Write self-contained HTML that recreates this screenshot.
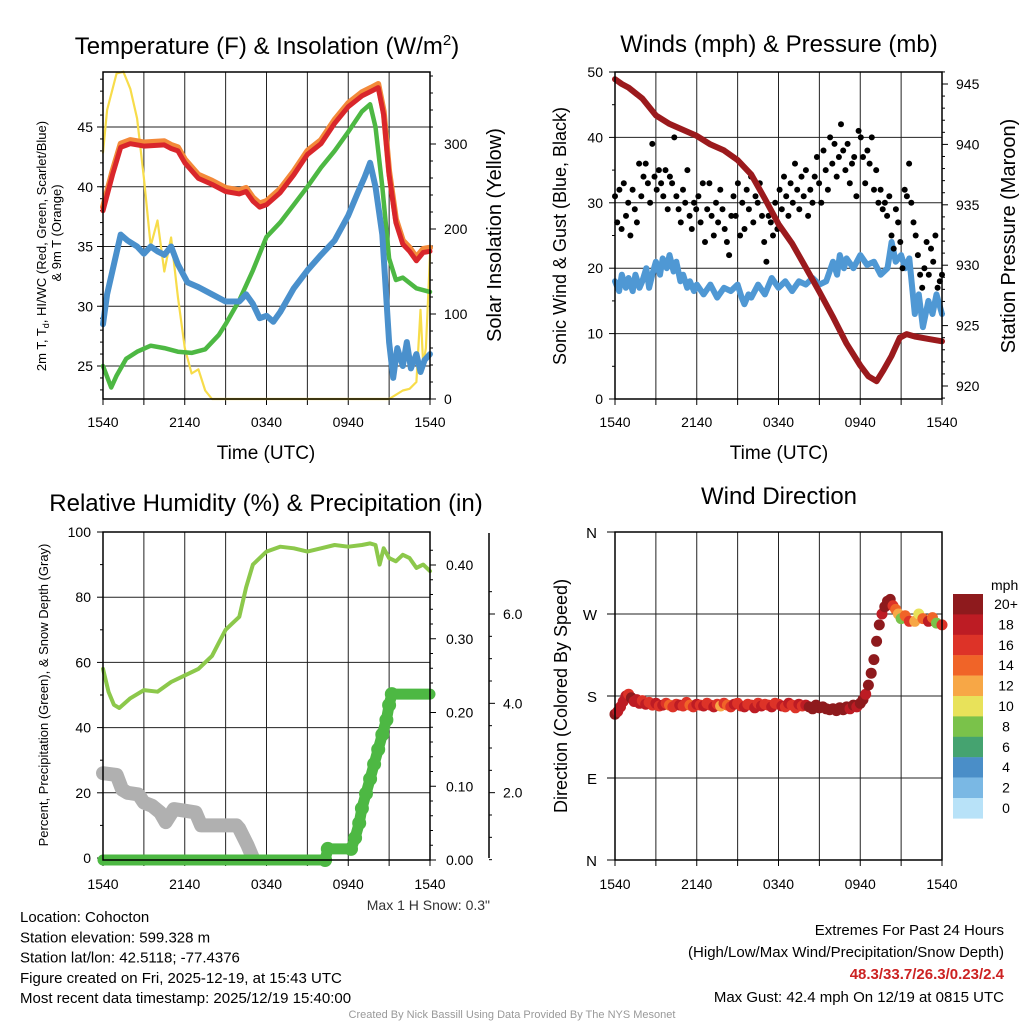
<!DOCTYPE html>
<html><head><meta charset="utf-8">
<style>
html,body{margin:0;padding:0;background:#fff;}
svg{display:block;font-family:"Liberation Sans",sans-serif;}
</style></head>
<body>
<svg id="c" width="1024" height="1024" viewBox="0 0 1024 1024"></svg>
<script>
// ---------- DATA ----------
const timeTicks = ["1540","2140","0340","0940","1540"];
// Panel 1: temperature (hours since start, value)
const redH = [0,0.7,1.3,2,3,4.5,5,5.5,6,7,8,9,10,10.5,11,11.5,12,13,14,15,16,17,18,19,19.7,20.2,20.6,21,21.5,22,22.5,23,23.5,24];
const redV = [38,41,43.3,43.6,43.4,43.5,43.2,43,42,40.7,40.2,39.6,39.4,39.6,38.8,38.3,38.5,39.5,41,42.7,43.6,45.3,46.7,47.6,48,48.3,46,41,37,35.2,34.6,33.8,34.5,34.6];
const orgV = [38.3,41.3,43.6,43.9,43.7,43.8,43.5,43.3,42.3,41,40.5,39.9,39.7,39.9,39.1,38.6,38.8,39.8,41.3,43,43.9,45.6,47,47.9,48.3,48.6,46.3,41.3,37.3,35.5,34.9,34.1,34.8,34.9];
const greenH = [0,0.6,1,1.7,2.5,3.5,4.5,5.5,6.5,7.5,8.5,9,10,11,12,13,14,15,16,17,18,19,19.6,20,20.5,21,21.5,22,23,24];
const greenV = [25,23.2,24.2,25.6,26.2,26.7,26.5,26.2,26.1,26.4,27.6,28.5,30.5,33,35.8,37,38.5,40,41.6,43,44.6,46.3,46.9,45,40,34,32.2,32.4,31.5,31.2];
const blueH = [0,0.3,0.8,1.3,1.8,2.5,3,3.5,4,4.5,5,5.5,6.2,7,8,9,10,10.5,11,11.5,12,12.5,13,14,15,16,17,18,18.7,19.2,19.6,20,20.5,21,21.3,21.6,22,22.3,22.6,23,23.3,23.6,24];
const blueV = [28.5,31,33.5,36,35.5,35,34.4,35,34.6,34.3,35,33.5,32,31.6,31,30.4,30.4,31,30.2,29,29.2,28.7,29.5,31.5,33,34.3,35.5,37.6,39.5,40.8,42,40,36,27,24,26.5,25,27,24.8,26,24.5,25.5,26];
const solarH = [0,0.3,1,1.5,2,2.5,3,3.5,4,4.5,5,5.5,6,6.5,7,7.5,8,8.5,9,20,21,21.5,22,22.5,23,23.3,23.5,23.7,24];
const solarV = [290,340,383,385,365,330,260,180,210,150,190,120,60,30,35,10,0,0,0,0,0,5,10,12,20,105,40,60,170];
// Panel 2: wind / pressure
const presH = [0,0.5,1,2,3,4,5,6,7,8,9,10,11,12,13,14,15,16,17,18,18.6,19.2,19.7,20.3,20.9,21.4,22,23,24];
const presV = [945.4,945,944.7,943.8,942.4,941.7,941.2,940.7,940,939.5,938.7,937.5,935.5,933.4,931.8,929.8,927.8,925.7,923.5,921.7,920.8,920.4,921.3,922.5,924,924.3,924.1,923.9,923.7];
const windH = [0,0.3,0.5,0.8,1,1.3,1.5,1.8,2,2.3,2.5,2.8,3,3.3,3.5,3.8,4,4.3,4.5,4.8,5,5.3,5.5,5.8,6,6.5,7,7.5,8,8.5,9,9.3,9.5,9.8,10,10.5,11,11.5,12,12.5,13,13.5,14,14.5,15,15.5,16,16.3,16.5,16.8,17,17.5,18,18.5,19,19.5,20,20.3,20.6,21,21.3,21.6,22,22.3,22.6,23,23.3,23.6,24];
const windV = [18,16.5,19,17,18.5,16.5,19,17,18,20,17,19.5,21,19,21.5,20,22,19.5,21,18,19,17,18,16.5,17.5,16,17.5,15.5,17,16.5,17.5,15.5,14.5,16,15.5,17.5,16,18.5,17,18,16.5,18,17.5,18.5,17.5,18,21,19,22,20,21.5,20,22,20.5,21,19,20,24,21,22,20,21.5,13,16,11,15,13,16,13];
const gustV = [31,27,32,26,33,28,30,25,32,29,27,36,31,34,36,33,30,39,34,32,35,33,31,35,29,34,33,40,31,29,27,32,30,35,28,26,30,29,31,27,33,24,29,33,28,25,30,27,32,29,26,24,22,28,31,28,33,25,30,26,32,29,34,27,31,30,33,28,24,21,28,27,25,30,26,32,29,34,31,28,33,30,36,32,29,34,31,35,28,32,30,34,37,33,30,38,35,32,40,36,39,34,37,42,38,35,39,33,36,37,31,41,40,37,33,38,36,40,32,35,30,32,29,30,28,31,25,23,29,27,24,20,32,31,36,30,27,25,22,19,17,20,24,19,23,21,25,17,18,19];
// Panel 3: RH, precip, snow depth
const rhH = [0,0.4,0.8,1.2,2,3,4,5,6,7,8,8.5,9,9.5,10,10.5,11,11.5,12,13,14,15,16,17,18,19,19.6,20,20.3,20.6,21,21.5,22,22.5,23,23.5,24];
const rhV = [58,51,47,46,49,51.5,51,54,56,58,62,66,70,72,74,83,90,92,94,95.5,95,94,95,96,95.5,96,96.5,96,90,95,92,91,93,92,89,90,88];
const precipH = [0,16.3,16.5,18.2,18.5,18.8,19,19.3,19.6,19.9,20.2,20.5,20.8,21,21.2,24];
const precipV = [0,0,0.015,0.015,0.03,0.05,0.07,0.09,0.11,0.13,0.15,0.17,0.19,0.21,0.225,0.225];
const snowH = [0,1,1.4,1.8,2.6,3,3.6,4.2,4.6,5.2,6,6.8,7.2,8,9.2,9.8,10,10.6,11];
const snowV = [26,25.5,21,20,19.5,17,16,14,11,15,14.5,14,10,10,10,10,9,4,0];
// Panel 4: wind direction (degrees) and speed (mph)
const dirH = [0,0.2,0.4,0.6,0.8,1,1.2,1.4,1.6,1.8,2,2.25,2.5,2.75,3,3.25,3.5,3.75,4,4.25,4.5,4.75,5,5.25,5.5,5.75,6,6.25,6.5,6.75,7,7.25,7.5,7.75,8,8.25,8.5,8.75,9,9.25,9.5,9.75,10,10.25,10.5,10.75,11,11.25,11.5,11.75,12,12.25,12.5,12.75,13,13.25,13.5,13.75,14,14.25,14.5,14.75,15,15.25,15.5,15.75,16,16.25,16.5,16.75,17,17.25,17.5,17.75,18,18.2,18.4,18.6,18.8,19,19.2,19.4,19.6,19.8,20,20.2,20.4,20.6,20.8,21,21.3,21.6,22,22.3,22.6,23,23.3,23.6,24];
const dirV = [160,163,168,174,180,182,178,174,176,172,175,171,173,170,172,169,170,172,170,168,171,170,169,173,170,168,171,170,169,172,170,168,171,169,172,170,168,171,172,169,168,171,170,167,172,169,171,170,168,172,171,169,168,172,170,167,171,169,170,168,166,170,167,168,166,165,166,164,167,165,168,166,170,168,172,176,182,192,205,220,240,258,270,278,284,286,279,275,270,265,268,262,262,270,265,262,266,260,258,264];
const spdV = [20,18,18,18,19,17,20,19,18,18,17,18,17,16,18,17,18,17,14,16,17,18,16,17,15,16,18,17,18,17,16,18,17,12,16,14,17,18,16,17,18,17,16,18,17,18,16,17,18,17,16,18,17,18,17,16,18,17,18,20,20,20,21,20,21,20,21,20,20,21,20,19,20,18,20,20,18,20,20,20,20,20,18,20,21,20,16,14,12,9,14,16,12,10,14,18,14,8,16,10];
const cbarLabels = ["20+","18","16","14","12","10","8","6","4","2","0"];
const cbarColors = ["#8e1a1d","#bd1c24","#dd3328","#f06428","#f7a746","#e8e25a","#7ac24a","#45a370","#4a8ec8","#7ab8e4","#b8e2f8"];

// ---------- HELPERS ----------
const svg = document.getElementById('c');
const NS = 'http://www.w3.org/2000/svg';
function mk(tag, attrs, parent, text){
  const e = document.createElementNS(NS, tag);
  for (const k in attrs) e.setAttribute(k, attrs[k]);
  if (text !== undefined) e.textContent = text;
  (parent||svg).appendChild(e);
  return e;
}
function lin(d0,d1,r0,r1){ return v => r0 + (v-d0)*(r1-r0)/(d1-d0); }
function poly(hs, vs, xf, yf, color, w, name){
  const pts = hs.map((h,i)=> xf(h).toFixed(1)+','+yf(vs[i]).toFixed(1)).join(' ');
  const p = mk('polyline',{points:pts,fill:'none',stroke:color,'stroke-width':w,'stroke-linejoin':'round','stroke-linecap':'round'});
  
  
  return p;
}
function txt(x,y,s,size,anchor,name,extra){
  const a = Object.assign({x:x,y:y,'font-size':size,'text-anchor':anchor||'middle',fill:'#000'}, extra||{});
  const t = mk('text',a,svg,s);
  
  
  return t;
}
function vtxt(x,y,s,size,name){
  const t = mk('text',{x:0,y:0,'font-size':size,'text-anchor':'middle',transform:`translate(${x},${y}) rotate(-90)`,fill:'#000'},svg,s);
  
  
  return t;
}
function frame(L,T,R,B,name){
  const r = mk('rect',{x:L,y:T,width:R-L,height:B-T,fill:'none',stroke:'#000','stroke-width':1.5});
  
  
}
function timeAxis(L,R,B,T,name,ly){
  const xf = lin(0,24,L,R);
  for (let h=0; h<=24; h+=3){
    const g = mk('line',{x1:xf(h),x2:xf(h),y1:T,y2:B,stroke:'#222','stroke-width':1});
    
    
    const tk = mk('line',{x1:xf(h),x2:xf(h),y1:B,y2:B+6,stroke:'#000','stroke-width':1});
    
    
  }
  timeTicks.forEach((s,i)=> txt(xf(i*6), ly, s, 14, 'middle', name+'-tick-label'));
  return xf;
}
function hgrid(L,R,y,name){
  const g = mk('line',{x1:L,x2:R,y1:y,y2:y,stroke:'#222','stroke-width':1});
  
  
}
function tick(x1,y1,x2,y2){
  const t = mk('line',{x1:x1,y1:y1,x2:x2,y2:y2,stroke:'#000','stroke-width':1});
  
  
}

// ---------- PANEL 1 ----------
{
  const L=103,R=430,T=72,B=399;
  const xf = timeAxis(L,R,B,T,'p1-x',427);
  const yT = lin(25,45,366,127);
  const yS = lin(0,300,399,144);
  [25,30,35,40,45].forEach(v=>{ hgrid(L,R,yT(v),'p1-h-gridline'); tick(L-6,yT(v),L,yT(v)); txt(L-10,yT(v)+5,String(v),14,'end','p1-y-tick-label'); });
  for (let v=23; v<=49; v++) tick(L-3,yT(v),L,yT(v));
  for (let v=0; v<=380; v+=20) tick(R,yS(v),R+(v%100===0?6:3),yS(v));
  [0,100,200,300].forEach(v=> txt(R+14,yS(v)+5,String(v),14,'start','p1-y2-tick-label'));
  poly(solarH,solarV,xf,yS,'#f7dc4a',2.2,'solar-insolation-line');
  poly(greenH,greenV,xf,yT,'#4db843',4.5,'dewpoint-line');
  poly(blueH,blueV,xf,yT,'#4a90cc',6,'windchill-line');
  poly(redH,orgV,xf,yT,'#f38a3a',6,'9m-temp-line');
  poly(redH,redV,xf,yT,'#d9262b',5,'2m-temp-line');
  frame(L,T,R,B,'p1-frame');
  const t = mk('text',{x:267,y:54,'font-size':24,'text-anchor':'middle'},svg);
   
  t.innerHTML = 'Temperature (F) &amp; Insolation (W/m<tspan dy="-9" font-size="15">2</tspan><tspan dy="9">)</tspan>';
  txt(266,459,'Time (UTC)',19,'middle','p1-x-title');
  const y1 = mk('text',{x:0,y:0,'font-size':13,'text-anchor':'middle',transform:'translate(46,246) rotate(-90)'},svg);
   
  y1.innerHTML = '2m T, T<tspan dy="3" font-size="9">d</tspan><tspan dy="-3">, HI/WC (Red, Green, Scarlet/Blue)</tspan>';
  vtxt(61,233,'& 9m T (Orange)',13,'p1-y-title-line2');
  vtxt(501,235,'Solar Insolation (Yellow)',20,'p1-y2-title');
}

// ---------- PANEL 2 ----------
{
  const L=615,R=942,T=72,B=399;
  const xf = timeAxis(L,R,B,T,'p2-x',427);
  const yW = lin(0,50,399,72);
  const yP = lin(920,945,386,84);
  [0,10,20,30,40,50].forEach(v=>{ if(v>0&&v<50) hgrid(L,R,yW(v),'p2-h-gridline'); tick(L-6,yW(v),L,yW(v)); txt(L-12,yW(v)+5,String(v),14,'end','p2-y-tick-label'); });
  for (let v=5; v<50; v+=10) tick(L-3,yW(v),L,yW(v));
  for (let v=919; v<=946; v++) tick(R,yP(v),R+(v%5===0?6:3),yP(v));
  [920,925,930,935,940,945].forEach(v=> txt(R+14,yP(v)+5,String(v),14,'start','p2-y2-tick-label'));
  poly(windH,windV,xf,yW,'#4f98d4',6,'sonic-wind-line');
  const n = gustV.length;
  gustV.forEach((v,i)=>{
    const c = mk('circle',{cx:xf(i*24/(n-1)).toFixed(1),cy:yW(v).toFixed(1),r:3,fill:'#000'});
    
    
  });
  poly(presH,presV,xf,yP,'#9b1a1d',6,'pressure-line');
  frame(L,T,R,B,'p2-frame');
  txt(779,52,'Winds (mph) & Pressure (mb)',24,'middle','p2-title');
  txt(779,459,'Time (UTC)',19,'middle','p2-x-title');
  vtxt(566,236,'Sonic Wind & Gust (Blue, Black)',18,'p2-y-title');
  vtxt(1015,236,'Station Pressure (Maroon)',20,'p2-y2-title');
}

// ---------- PANEL 3 ----------
{
  const L=103,R=430,T=532,B=860;
  const xf = timeAxis(L,R,B,T,'p3-x',889);
  const yPct = lin(0,100,858,532);
  const yIn = lin(0,0.4,860,565);
  const ySn = lin(0,6,882,614);
  [0,20,40,60,80,100].forEach(v=>{ if(v>0&&v<100) hgrid(L,R,yPct(v),'p3-h-gridline'); tick(L-6,yPct(v),L,yPct(v)); txt(L-12,yPct(v)+5,String(v),14,'end','p3-y-tick-label'); });
  for (let v=10; v<100; v+=20) tick(L-3,yPct(v),L,yPct(v));
  for (let v=0; v<=0.44; v+=0.02) tick(R,yIn(v),R+(Math.round(v*100)%10===0?6:3),yIn(v));
  [0,0.1,0.2,0.3,0.4].forEach(v=> txt(R+16,yIn(v)+5,v.toFixed(2),14,'start','p3-y2-tick-label'));
  const ax = mk('line',{x1:489,x2:489,y1:533,y2:858,stroke:'#000','stroke-width':1.5});
   
  for (let v=0.5; v<7; v+=0.5) if (ySn(v)>535) tick(489,ySn(v),489+(v%2===0?6:3),ySn(v));
  [2,4,6].forEach(v=> txt(503,ySn(v)+5,v.toFixed(1),14,'start','p3-y3-tick-label'));
  poly(snowH,snowV,xf,yPct,'#b0b0b0',14,'snow-depth-line');
  precipH.forEach((h,i)=>{
    if (i>0 && i<precipH.length-1){
      const c = mk('circle',{cx:xf(h).toFixed(1),cy:yIn(precipV[i]).toFixed(1),r:7,fill:'#4db843'});
      
      
    }
  });
  poly(precipH,precipV,xf,yIn,'#4db843',11,'precip-line');
  poly(rhH,rhV,xf,yPct,'#8cc84b',4,'rh-line');
  frame(L,T,R,B,'p3-frame');
  txt(266,511,'Relative Humidity (%) & Precipitation (in)',24,'middle','p3-title');
  vtxt(48,695,'Percent, Precipitation (Green), & Snow Depth (Gray)',13,'p3-y-title');
  txt(490,910,'Max 1 H Snow: 0.3"',14,'end','max-snow-label',{fill:'#333'});
}

// ---------- PANEL 4 ----------
{
  const L=615,R=942,T=532,B=860;
  const xf = timeAxis(L,R,B,T,'p4-x',889);
  const yD = lin(0,360,860,532);
  ["N","E","S","W","N"].forEach((s,i)=>{ const v=i*90; if(i>0&&i<4) hgrid(L,R,yD(v),'p4-h-gridline'); tick(L-8,yD(v),L,yD(v)); txt(L-18,yD(v)+6,s,15,'end','p4-y-tick-label'); });
  function col(s){ const k = Math.min(10, Math.floor(s/2)); return cbarColors[10-k]; }
  dirH.forEach((h,i)=>{
    const c = mk('circle',{cx:xf(h).toFixed(1),cy:yD(dirV[i]).toFixed(1),r:5.5,fill:col(spdV[i])});
    
    
  });
  frame(L,T,R,B,'p4-frame');
  txt(779,504,'Wind Direction',24,'middle','p4-title');
  vtxt(567,696,'Direction (Colored By Speed)',18,'p4-y-title');
  txt(991,590,'mph',14,'start','colorbar-title');
  cbarColors.forEach((c,i)=>{
    const r = mk('rect',{x:953,y:(594+i*20.4).toFixed(1),width:30,height:20.6,fill:c});
    
    
    txt(1006,594+i*20.4+15,cbarLabels[i],14,'middle','colorbar-label');
  });
}

// ---------- FOOTER ----------
["Location: Cohocton","Station elevation: 599.328 m","Station lat/lon: 42.5118; -77.4376","Figure created on Fri, 2025-12-19, at 15:43 UTC","Most recent data timestamp: 2025/12/19 15:40:00"].forEach((s,i)=> txt(20,922+i*20.3,s,15,'start','footer-info-line'));
txt(1004,935,'Extremes For Past 24 Hours',15,'end','extremes-title');
txt(1004,957,'(High/Low/Max Wind/Precipitation/Snow Depth)',15,'end','extremes-subtitle');
txt(1004,979,'48.3/33.7/26.3/0.23/2.4',15,'end','extremes-values',{fill:'#cc2222','font-weight':'bold'});
txt(1004,1002,'Max Gust: 42.4 mph On 12/19 at 0815 UTC',15,'end','max-gust-line');
txt(512,1018,'Created By Nick Bassill Using Data Provided By The NYS Mesonet',11,'middle','credit-line',{fill:'#999'});
</script>
</body></html>
